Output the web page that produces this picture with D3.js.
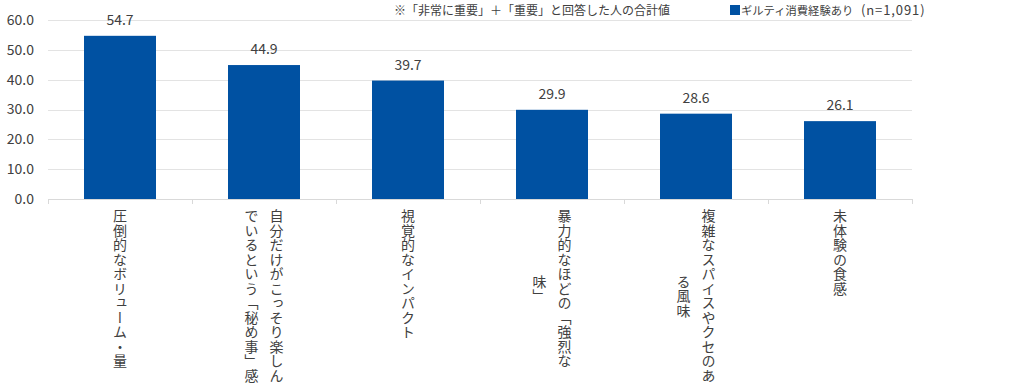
<!DOCTYPE html>
<html>
<head>
<meta charset="utf-8">
<script src="https://cdn.jsdelivr.net/npm/d3@7"></script>
<style>
  html, body { margin: 0; padding: 0; background: #fff; }
  svg { display: block; font-family: "Noto Sans CJK JP", "Noto Sans", sans-serif; }
</style>
</head>
<body>
<svg id="chart" width="1024" height="388"></svg>
<script>
// ---- data ----
const categories = [
  "圧倒的なボリューム・量",
  "自分だけがこっそり楽しんでいるという「秘め事」感",
  "視覚的なインパクト",
  "暴力的なほどの「強烈な味」",
  "複雑なスパイスやクセのある風味",
  "未体験の食感"
];
const categoryLines = [
  ["圧倒的なボリューム・量"],
  ["自分だけがこっそり楽しん", "でいるという「秘め事」感"],
  ["視覚的なインパクト"],
  ["暴力的なほどの「強烈な", "味」"],
  ["複雑なスパイスやクセのあ", "る風味"],
  ["未体験の食感"]
];
const values = [54.7, 44.9, 39.7, 29.9, 28.6, 26.1];
const yTicks = [0, 10, 20, 30, 40, 50, 60];
const seriesName = "ギルティ消費経験あり";
const seriesN = "(n=1,091)";
const noteText = "※「非常に重要」＋「重要」と回答した人の合計値";

// ---- layout ----
const svg = d3.select("#chart");
const mLeft = 48, mRight = 912, mTop = 20, mBottom = 199;
const barColor = "#0051A2";
const textColor = "#404040";
const gridColor = "#e3e3e3";

const x = d3.scaleBand().domain(categories).range([mLeft, mRight])
  .paddingInner(0.5).paddingOuter(0.25);
const y = d3.scaleLinear().domain([0, 60]).range([mBottom, mTop]);

// gridlines
svg.append("g").selectAll("line").data(yTicks.filter(d => d > 0)).join("line")
  .attr("x1", mLeft).attr("x2", mRight)
  .attr("y1", d => Math.round(y(d)) + 0.5).attr("y2", d => Math.round(y(d)) + 0.5)
  .attr("stroke", gridColor).attr("stroke-width", 1);

// y axis labels
const yAxis = d3.axisLeft(y).tickValues(yTicks).tickFormat(d3.format(".1f")).tickSize(0).tickPadding(0);
const gy = svg.append("g").attr("transform", `translate(34,0)`).call(yAxis);
gy.select(".domain").remove();
gy.selectAll("text").attr("fill", textColor).style("font-size", "14px")
  .style("font-family", "'Noto Sans CJK JP', sans-serif");

// bars
svg.append("g").selectAll("rect").data(values).join("rect")
  .attr("x", (d, i) => x(categories[i]))
  .attr("width", x.bandwidth())
  .attr("y", d => y(d))
  .attr("height", d => y(0) - y(d))
  .attr("fill", barColor);

// value labels
svg.append("g").selectAll("text").data(values).join("text")
  .attr("x", (d, i) => x(categories[i]) + x.bandwidth() / 2)
  .attr("y", d => y(d) - 11)
  .attr("text-anchor", "middle")
  .attr("fill", textColor)
  .style("font-size", "14px")
  .text(d => d3.format(".1f")(d));

// baseline + category ticks
const step = x.step();
svg.append("line").attr("x1", mLeft).attr("x2", mRight)
  .attr("y1", mBottom + 0.5).attr("y2", mBottom + 0.5)
  .attr("stroke", "#d9d9d9");
svg.append("g").selectAll("line").data(d3.range(categories.length + 1)).join("line")
  .attr("x1", i => Math.round(mLeft + i * step) + 0.5).attr("x2", i => Math.round(mLeft + i * step) + 0.5)
  .attr("y1", mBottom).attr("y2", mBottom + 5)
  .attr("stroke", "#d9d9d9");

// vertical category labels
const labelTop = 209, colGap = 25;
const lg = svg.append("g");
categoryLines.forEach((lines, i) => {
  const cx = x(categories[i]) + x.bandwidth() / 2;
  const n = lines.length;
  const texts = lines.map((line, j) => {
    const colX = cx + ((n - 1) / 2 - j) * colGap;
    return lg.append("text")
      .attr("x", colX).attr("y", labelTop)
      .style("writing-mode", "vertical-rl")
      .style("font-size", "14px")
      .style("letter-spacing", "0.5px")
      .attr("fill", textColor)
      .text(line);
  });
  const lens = texts.map(t => t.node().getBBox().height);
  const maxLen = d3.max(lens);
  texts.forEach((t, j) => t.attr("y", labelTop + (maxLen - lens[j]) / 2));
});

// note + legend
svg.append("text").attr("x", 394).attr("y", 15)
  .attr("fill", textColor).style("font-size", "12px").text(noteText);
svg.append("rect").attr("x", 730).attr("y", 5).attr("width", 10).attr("height", 10).attr("fill", barColor);
const legText = svg.append("text").attr("x", 741).attr("y", 15)
  .attr("fill", textColor).style("font-size", "11.3px");
legText.append("tspan").text(seriesName);
legText.append("tspan").attr("x", 861).style("font-size", "13px")
  .style("letter-spacing", "0.9px").text(seriesN);
</script>
</body>
</html>
